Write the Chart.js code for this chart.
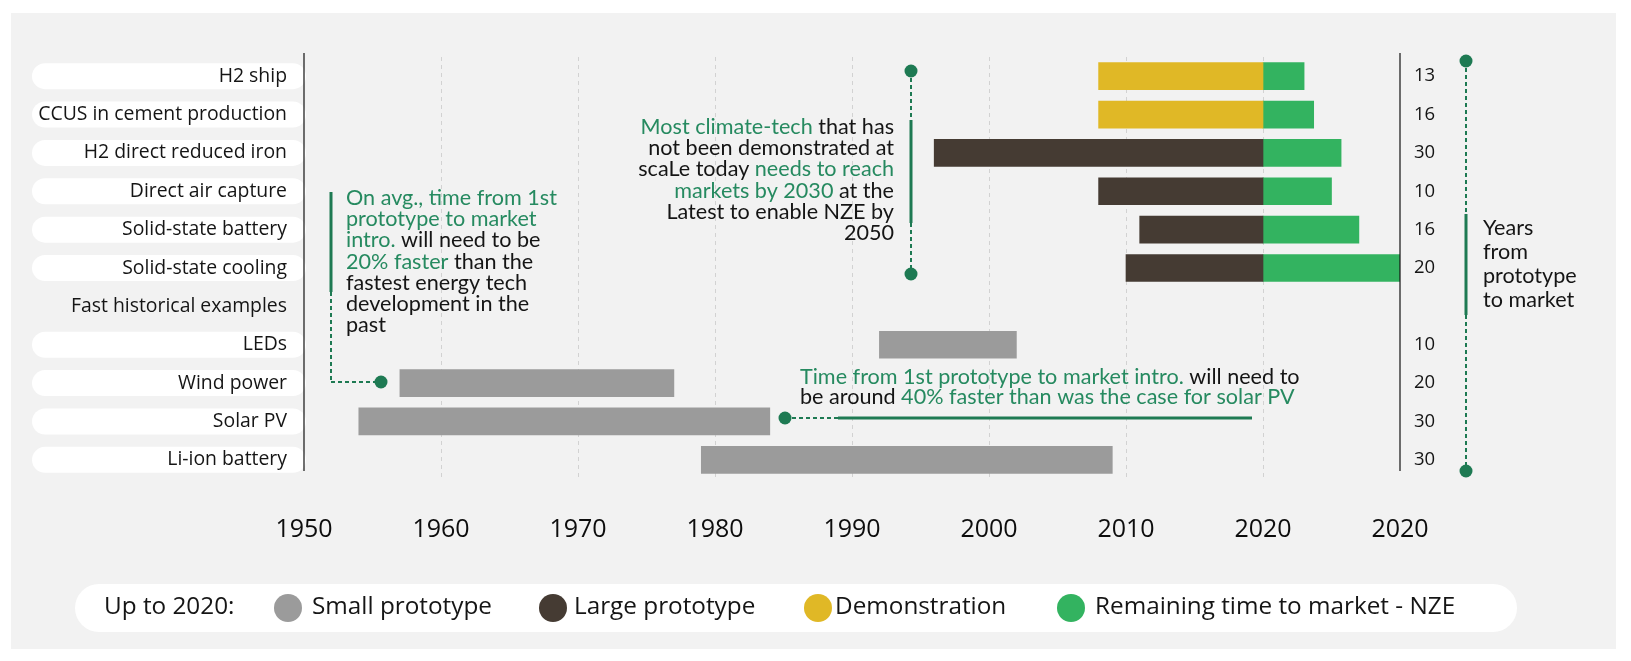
<!DOCTYPE html>
<html><head><meta charset="utf-8">
<script src="https://cdn.jsdelivr.net/npm/chart.js@4.4.1/dist/chart.umd.min.js"></script>
<style>html,body{margin:0;padding:0;background:#fff;overflow:hidden}#wrap{width:1631px;height:661px}</style>
</head><body><div id="wrap"><canvas id="c" width="1631" height="661" style="width:1631px;height:661px"></canvas></div>
<script>
const categories = ["H2 ship","CCUS in cement production","H2 direct reduced iron","Direct air capture","Solid-state battery","Solid-state cooling","Fast historical examples","LEDs","Wind power","Solar PV","Li-ion battery"];
const yearsToMarket = ["13","16","30","10","16","20","","10","20","30","30"];
const xTickLabels = ["1950","1960","1970","1980","1990","2000","2010","2020","2020"];
const legendTitle = "Up to 2020:";
const legendLabels = ["Small prototype","Large prototype","Demonstration","Remaining time to market - NZE"];
const smallPrototype = [null,null,null,null,null,null,null,[1992,2002],[1957,1977],[1954,1984],[1979,2009]];
const largePrototype = [null,null,[1996,2020],[2008,2020],[2011,2020],[2010,2020],null,null,null,null,null];
const demonstration = [[2008,2020],[2008,2020],null,null,null,null,null,null,null,null,null];
const remainingToMarket = [[2020,2023],[2020,2023.7],[2020,2025.7],[2020,2025],[2020,2027],[2020,2030],null,null,null,null,null];
const seriesColors = ["#9b9b9b","#453b33","#e0b826","#33b360"];

const noteLeft = [[["g","On avg., time from 1st"]],[["g","prototype to market"]],[["g","intro."],["d"," will need to be"]],[["g","20% faster"],["d"," than the"]],[["d","fastest energy tech"]],[["d","development in the"]],[["d","past"]]];
const noteMid = [[["g","Most climate-tech"],["d"," that has"]],[["d","not been demonstrated at"]],[["d","scaLe today"],["g"," needs to reach"]],[["g","markets by 2030"],["d"," at the"]],[["d","Latest to enable NZE by"]],[["d","2050"]]];
const noteBottom = [[["g","Time from 1st prototype to market intro."],["d"," will need to"]],[["d","be around "],["g","40% faster than was the case for solar PV"]]];
const noteRight = ["Years","from","prototype","to market"];

const GREEN_TXT = "#268a60", GREEN_LINE = "#1e7a53", DARK = "#151515";
const NOTE_FONT = "21.6px Lato, 'Open Sans', sans-serif";
const LABEL_FONT = "'Open Sans', 'Noto Sans', sans-serif";

function rr(ctx,x,y,w,h,r){ctx.beginPath();ctx.moveTo(x+r,y);ctx.lineTo(x+w-r,y);ctx.arc(x+w-r,y+r,r,-Math.PI/2,Math.PI/2);ctx.lineTo(x+r,y+h);ctx.arc(x+r,y+r,r,Math.PI/2,Math.PI*1.5);ctx.closePath();ctx.fill();}
function segLine(ctx,segs,x,y,align){
  let total=0; segs.forEach(s=>total+=ctx.measureText(s[1]).width);
  let cx = align==="right" ? x-total : x;
  ctx.textAlign="left";
  segs.forEach(s=>{ctx.fillStyle = s[0]==="g"?GREEN_TXT:DARK; ctx.fillText(s[1],cx,y); cx+=ctx.measureText(s[1]).width;});
}
function vline(ctx,x,y1,y2,dashed,w){ctx.save();ctx.strokeStyle=GREEN_LINE;ctx.lineWidth=w;ctx.setLineDash(dashed?[4,3]:[]);ctx.beginPath();ctx.moveTo(x,y1);ctx.lineTo(x,y2);ctx.stroke();ctx.restore();}
function hline(ctx,x1,x2,y,dashed,w){ctx.save();ctx.strokeStyle=GREEN_LINE;ctx.lineWidth=w;ctx.setLineDash(dashed?[4,3]:[]);ctx.beginPath();ctx.moveTo(x1,y);ctx.lineTo(x2,y);ctx.stroke();ctx.restore();}
function dot(ctx,x,y){ctx.save();ctx.fillStyle=GREEN_LINE;ctx.beginPath();ctx.arc(x,y,6.5,0,Math.PI*2);ctx.fill();ctx.restore();}

const decor = {
  id:"decor",
  beforeDraw(chart){
    const ctx=chart.ctx, ys=chart.scales.y;
    ctx.save();
    ctx.fillStyle="#ffffff";ctx.fillRect(0,0,chart.width,chart.height);
    ctx.fillStyle="#f2f2f2";ctx.fillRect(11,13,1605,636);
    ctx.fillStyle="#ffffff";
    categories.forEach((c,i)=>{ if(i===6) return; const y=ys.getPixelForValue(i); rr(ctx,32,y-13,chart.chartArea.left-32+2,26,13);});
    rr(ctx,75,584,1442,48,24);
    ctx.restore();
  },
  afterDraw(chart){
    const ctx=chart.ctx, ca=chart.chartArea;
    ctx.save();
    ctx.strokeStyle="#111";ctx.lineWidth=1.2;
    [ca.left,ca.right].forEach(x=>{ctx.beginPath();ctx.moveTo(x,53);ctx.lineTo(x,471);ctx.stroke();});
    ctx.font="24.3px "+LABEL_FONT;ctx.textBaseline="middle";ctx.fillStyle=DARK;ctx.textAlign="left";
    ctx.fillText(legendTitle,104,607);
    const cx=[288,553,818,1071], tx=[312,574,835,1095];
    legendLabels.forEach((l,i)=>{ctx.fillStyle=seriesColors[i];ctx.beginPath();ctx.arc(cx[i],608,14,0,Math.PI*2);ctx.fill();ctx.fillStyle=DARK;ctx.fillText(l,tx[i],607);});
    ctx.font=NOTE_FONT;ctx.textBaseline="middle";
    noteLeft.forEach((ln,i)=>segLine(ctx,ln,346,198+i*21.2,"left"));
    vline(ctx,331,192,292,false,3); vline(ctx,331,292,382,true,2); hline(ctx,331,378,382,true,2); dot(ctx,381,382);
    noteMid.forEach((ln,i)=>segLine(ctx,ln,894,127+i*21.2,"right"));
    dot(ctx,911,71); vline(ctx,911,71,120,true,2); vline(ctx,911,120,223,false,3); vline(ctx,911,223,274,true,2); dot(ctx,911,274);
    noteBottom.forEach((ln,i)=>segLine(ctx,ln,800,377+i*20.5,"left"));
    dot(ctx,785,418); hline(ctx,785,838,418,true,2); hline(ctx,838,1252,418,false,3);
    ctx.fillStyle=DARK;ctx.textAlign="left";
    noteRight.forEach((t,i)=>ctx.fillText(t,1483,228+i*24));
    dot(ctx,1466,61); vline(ctx,1466,61,214,true,2); vline(ctx,1466,214,315,false,3); vline(ctx,1466,315,471,true,2); dot(ctx,1466,471);
    ctx.restore();
  }
};

const mk=(label,data,color)=>({label,data,backgroundColor:color,borderWidth:0,borderSkipped:false,barThickness:27,grouped:false,yAxisID:"y"});

new Chart(document.getElementById("c"),{
  type:"bar",
  data:{labels:categories,datasets:[
    mk(legendLabels[0],smallPrototype,seriesColors[0]),
    mk(legendLabels[1],largePrototype,seriesColors[1]),
    mk(legendLabels[2],demonstration,seriesColors[2]),
    mk(legendLabels[3],remainingToMarket,seriesColors[3])
  ]},
  options:{
    indexAxis:"y",responsive:false,animation:false,devicePixelRatio:1,
    layout:{padding:{top:57,left:0,right:0,bottom:0}},
    plugins:{legend:{display:false},tooltip:{enabled:false}},
    scales:{
      x:{type:"linear",min:1950,max:2030,position:"bottom",
        afterFit(s){s.height=661-479;},
        ticks:{stepSize:10,padding:36,color:"#0d0d0d",font:{family:LABEL_FONT,size:25,weight:"500"},maxRotation:0,
          callback:(v,i)=>xTickLabels[i]},
        grid:{drawTicks:false,lineWidth:1,color:(c)=>(c.tick&&(c.tick.value===1950||c.tick.value===2030))?"rgba(0,0,0,0)":"#d2d2d2"},
        border:{display:false,dash:[4,4]}},
      y:{type:"category",position:"left",offset:true,
        afterFit(s){s.width=304;},
        ticks:{padding:17,color:DARK,font:{family:LABEL_FONT,size:19.4}},
        grid:{display:false,drawTicks:false},border:{display:false}},
      yR:{type:"category",position:"right",offset:true,labels:yearsToMarket,
        afterFit(s){s.width=1631-1400;},
        ticks:{padding:14,color:DARK,font:{family:LABEL_FONT,size:18.5,weight:"500"}},
        grid:{display:false,drawTicks:false},border:{display:false}}
    }
  },
  plugins:[decor]
});
</script></body></html>
